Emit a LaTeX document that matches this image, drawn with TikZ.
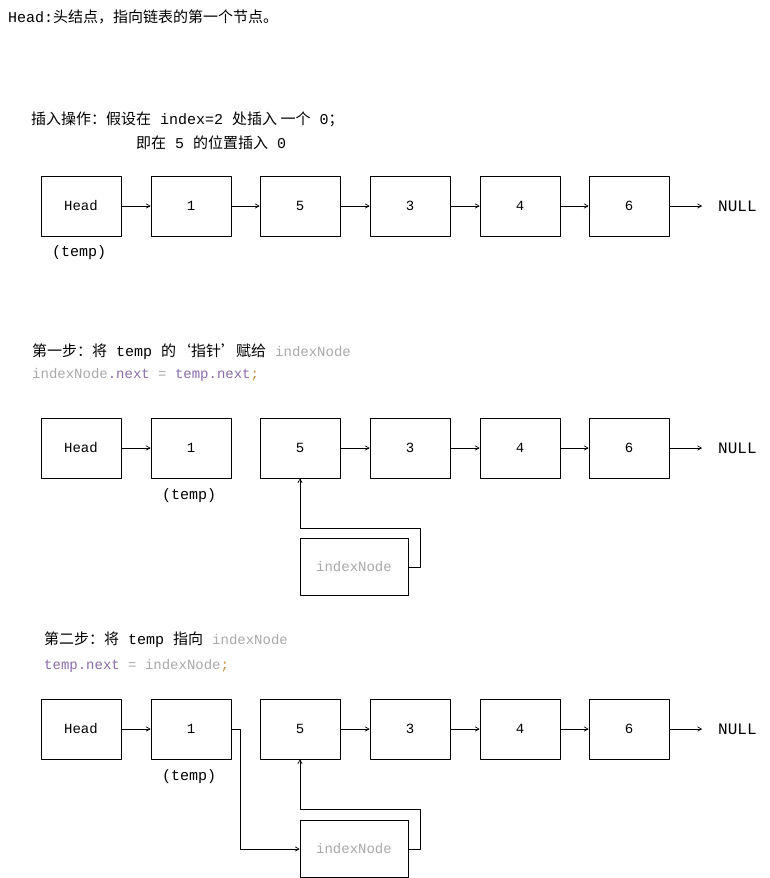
\documentclass[tikz,border=0pt]{standalone}
\usepackage{fontspec}
\setmainfont{Liberation Mono}
\newfontfamily\cjk{Noto Sans CJK SC}
\usetikzlibrary{arrows}
\definecolor{codegray}{HTML}{A8A8A8}
\definecolor{codepurple}{HTML}{8A6BA8}
\definecolor{codeorange}{HTML}{C88A3A}
\tikzset{
  cell/.style={draw,line width=0.8pt,minimum width=80pt,minimum height=60pt,inner sep=0pt,font=\fontsize{14}{16}\selectfont},
  idxcell/.style={cell,minimum width=108pt,minimum height=57pt,text=codegray},
  txt/.style={anchor=west,inner sep=0pt,font=\fontsize{15}{18}\selectfont},
  link/.style={->,line width=0.7pt}
}
\begin{document}
\begin{tikzpicture}[line cap=round,line join=round,>=angle 60,x=1pt,y=-1pt]
      \useasboundingbox (0,0) rectangle (769,878);

      \node[txt] (title) at (8,17) {Head:{\cjk 头结点，指向链表的第一个节点。}};
      \node[txt] (op1) at (31,119) {{\cjk 插入操作：假设在} index=2 {\cjk 处插入 一个} 0{\cjk ；}};
      \node[txt] (op2) at (136,143) {{\cjk 即在} 5 {\cjk 的位置插入} 0};

      % three rows of the list
      \foreach \r/\y in {a/206,b/448,c/729}{
        \foreach \i/\t/\x in {0/Head/81,1/1/191,2/5/300,3/3/410,4/4/520,5/6/629}{
          \node[cell] (\r\i) at (\x,\y) {\t};
        }
        \node[txt,inner xsep=16pt,font=\fontsize{16}{18}\selectfont] (\r null) at (702,\y) {NULL};
        \draw[link] (\r5) -- (\r null);
      }
      \foreach \i/\j in {0/1,1/2,2/3,3/4,4/5}{
        \draw[link] (a\i) -- (a\j);
      }
      \foreach \i/\j in {0/1,2/3,3/4,4/5}{
        \draw[link] (b\i) -- (b\j);
        \draw[link] (c\i) -- (c\j);
      }
      \node[txt] (tmpa) at (52,253) {(temp)};
      \node[txt] (tmpb) at (162,496) {(temp)};
      \node[txt] (tmpc) at (162,777) {(temp)};

      % step one
      \node[txt] (stepA) at (32,352) {{\cjk 第一步：将} temp {\cjk 的‘指针’赋给} {\color{codegray}\fontsize{14}{16}\selectfont indexNode}};
      \node[txt,font=\fontsize{14}{16}\selectfont] (codeA) at (32,375) {\color{codegray}indexNode{\color{codepurple}.next} = {\color{codepurple}temp.next}{\color{codeorange};}};
      \node[idxcell] (idxb) at (354,567) {indexNode};
      \draw[link] (idxb.east) -- ++(12,0) |- (300,528) -- (b2.south);

      % step two
      \node[txt] (stepB) at (44,640) {{\cjk 第二步：将} temp {\cjk 指向} {\color{codegray}\fontsize{14}{16}\selectfont indexNode}};
      \node[txt,font=\fontsize{14}{16}\selectfont] (codeB) at (44,666) {\color{codepurple}temp.next {\color{codegray}= indexNode}{\color{codeorange};}};
      \node[idxcell] (idxc) at (354,849) {indexNode};
      \draw[link] (idxc.east) -- ++(12,0) |- (300,809) -- (c2.south);
      \draw[link] (c1.east) -- ++(9,0) |- (idxc.west);
\end{tikzpicture}
\end{document}
